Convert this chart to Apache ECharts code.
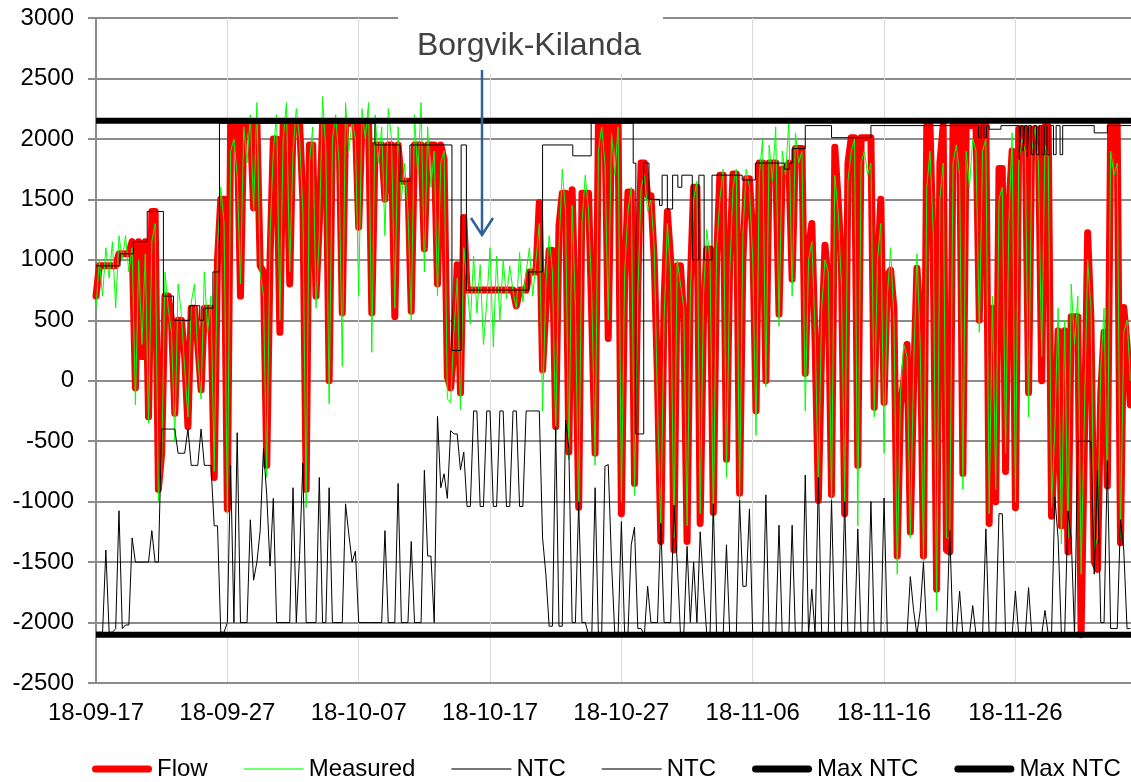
<!DOCTYPE html>
<html>
<head>
<meta charset="utf-8">
<script src="https://cdn.jsdelivr.net/npm/echarts@6/dist/echarts.min.js"></script>
<style>
  html, body { margin: 0; padding: 0; background: #fff; }
  #chart { width: 1131px; height: 782px; }
</style>
</head>
<body>
<div id="chart"></div>
<script>
// start date of the x axis, values are 6-hourly (00, 06, 12, 18) per day
const startDate = Date.UTC(2018, 8, 17);
const perDay = 4;
const dayTicks = [0, 10, 20, 30, 40, 50, 60, 70];
const yTicks = [-2500, -2000, -1500, -1000, -500, 0, 500, 1000, 1500, 2000, 2500, 3000];

// Flow (MW)
const flow = [
  700, 950, 950, 950,       // 09-17
  950, 950, 950, 1050,
  1050, 1050, 1050, 1150,
  -60, 1150, 200, 1150,
  -300, 1400, 1400, -900,
  -600, 700, 700, 500,
  -270, 500, 500, 200,
  -380, 600, 600, 300,
  -75, 600, 600, 600,
  -800, 1000, 1500, 1500,
  -1060, 2130, 2130, 2130,  // 09-27
  700, 2130, 2130, 2130,
  1430, 2130, 950, 900,
  -700, 1000, 2000, 2000,
  400, 2130, 2130, 800,
  2130, 2130, 2130, 1500,
  -900, 1950, 1950, 700,
  1300, 2130, 2130, 0,
  2130, 2130, 2130, 560,
  2130, 2130, 2130, 2130,
  1270, 2130, 2130, 2130,   // 10-07
  560, 1950, 1950, 1950,
  1500, 1950, 1950, 530,
  1950, 1650, 1650, 1650,
  575, 1950, 1950, 1950,
  1090, 1950, 1950, 1950,
  800, 1950, 1830, 30,
  -60, 250, 960, -100,
  1350, 750, 750, 750,
  750, 750, 750, 750,
  750, 750, 750, 750,       // 10-17
  750, 750, 750, 750,
  620, 750, 750, 750,
  900, 900, 900, 1475,
  90, 600, 1077, 1077,
  -380, 1280, 1550, 1550,
  -590, 1580, 500, -1047,
  1550, 1550, 1550, 500,
  -600, 2130, 2130, 2130,
  350, 2130, 2130, 2130,
  -1100, 830, 1560, 1560,   // 10-27
  -850, 800, 1800, 1800,
  1530, 1530, 1000, 0,
  -1330, 650, 1400, 1000,
  -1400, 950, 950, 500,
  -1330, 800, 1600, 1600,
  -1180, 500, 1090, 1090,
  -1090, 1000, 1700, 1700,
  -650, 1000, 1710, 1710,
  -930, 1000, 1670, 1670,
  1200, -250, 1800, 1800,   // 11-06
  0, 1800, 1800, 1800,
  550, 1750, 1750, 1800,
  840, 1920, 1920, 1920,
  60, 1090, 1300, 300,
  -990, 300, 1120, 800,
  -940, 1930, 1500, 1000,
  -1100, 1800, 2010, 2010,
  -700, 2010, 2010, 2010,
  2010, -220, 885, 1500,
  -180, 870, 915, 600,      // 11-16
  -1450, -200, 0, 300,
  -1250, -30, 930, 500,
  -1450, 2110, 2110, 1000,
  -1725, 1800, 2110, -1400,
  -1416, 2110, 2110, 2110,
  -767, 2110, 2110, 2110,
  2110, 500, 2110, 2110,
  -1180, 600, -1000, 1755,
  1755, -750, 1416, 1900,
  -1050, 2080, 2080, 2080,  // 11-26
  -100, 2080, 2080, 2080,
  0, 2100, 2100, -1120,
  -500, 413, -1200, 413,
  -1416, 530, 530, 530,
  -2100, -500, 1224, 500,
  -1500, -1560, -90, 400,
  -870, 2110, 2110, 2110,
  -1340, 605, 300, -200
];

// Measured (MW)
const measured = [
  600, 1000, 700, 1100,
  850, 1150, 600, 1200,
  1000, 1200, 900, 1100,
  -200, 1000, 300, 1050,
  -350, 1150, 1300, -1000,
  -700, 900, 600, 400,
  -500, 800, 550, 100,
  -300, 650, 800, 200,
  -150, 900, 400, 700,
  -750, 1100, 1600, 1300,
  -1100, 1900, 2000, 1700,
  800, 2100, 1800, 2200,
  1400, 2300, 900, 700,
  -800, 1200, 1900, 2200,
  500, 2000, 2300, 900,
  1900, 2250, 2000, 1400,
  -1050, 1800, 2100, 600,
  1200, 2350, 1900, -190,
  2000, 2200, 1800, 120,
  2300, 1900, 2150, 2000,
  700, 2250, 2000, 2300,
  235, 2200, 1800, 2100,
  1200, 2250, 2000, 600,
  2100, 1500, 1800, 1400,
  500, 2200, 1700, 2300,
  900, 2100, 1600, 1900,
  700, 1800, 1900, -150,
  -180, 400, 850, -240,
  1100, 800, 470, 1030,
  560, 960, 300, 650,
  1100, 280, 1030, 500,
  1000, 680, 950, 740,
  600, 1060, 650, 900,
  1100, 700, 1000, 1300,
  -250, 800, 1200, 900,
  -450, 1100, 1750, 1400,
  -650, 1450, 600, -1100,
  1300, 1700, 1400, 700,
  -700, 1900, 2100, 1800,
  500, 2050, 1700, 2100,
  -1000, 900, 1400, 1600,
  -950, 700, 1600, 1700,
  1400, 1500, 1100, -200,
  -1200, 500, 1300, 900,
  -1300, 1000, 800, 600,
  -1200, 700, 1500, 1650,
  -1100, 700, 1250, 1000,
  -1200, 1100, 1500, 1750,
  -800, 900, 1600, 1750,
  -1000, 1200, 1750, 1600,
  1000, -450, 1700, 2000,
  -50, 1950, 1650, 2100,
  450, 1900, 1700, 2150,
  700, 2050, 1800, 1900,
  -250, 1000, 1150, 400,
  -900, 600, 1000, 900,
  -1000, 1700, 1400, 800,
  -1000, 1650, 1900, 2000,
  -1200, 1800, 1900, 1700,
  1800, -300, 1000, 1300,
  -600, 700, 1100, 500,
  -1600, -100, 300, 200,
  -1300, 100, 1050, 300,
  -1500, 1600, 1900, 1200,
  -1900, 1500, 1800, -1300,
  -1300, 1800, 1950, 1700,
  -900, 1900, 1600, 2000,
  1900, 400, 1900, 2000,
  -1100, 700, -900, 1500,
  1600, -600, 1300, 2050,
  -1000, 1800, 2000, 1900,
  -300, 1900, 2100, 1800,
  200, 1950, 1850, -1050,
  -400, 600, -1350, 500,
  -1300, 800, 300, 700,
  -1600, -300, 1000, 600,
  -1400, -1300, 100, 600,
  -900, 1900, 1700, 1800,
  -1300, 400, 500, 0
];

// NTC, lower direction (MW)
const ntcLow = [
  -2080, -2080, -2080, -1400,
  -2080, -2080, -2050, -1075,
  -2050, -2020, -2020, -1300,
  -1500, -1500, -1500, -1500,
  -1500, -1240, -1500, -1500,
  -400, -400, -400, -400,
  -400, -600, -600, -600,
  -400, -700, -700, -700,
  -400, -700, -700, -700,
  -1200, -1200, -2080, -2080,
  -2000, -700, -2000, -430,
  -2000, -2000, -2000, -1150,
  -1650, -1500, -1240, -560,
  -944, -1534, -973, -2000,
  -2000, -2000, -2000, -2000,
  -885, -2000, -1445, -680,
  -2000, -2000, -2000, -2000,
  -800, -2000, -2000, -885,
  -2000, -2000, -2000, -2000,
  -1018, -1270, -1500, -1410,
  -2000, -2000, -2000, -2000,
  -2000, -2000, -2000, -2000,
  -1240, -2000, -2000, -2000,
  -850, -2000, -2000, -2000,
  -1330, -2000, -2000, -2000,
  -740, -1450, -1450, -2000,
  -295, -885, -770, -973,
  -413, -440, -440, -738,
  -590, -1040, -1040, -250,
  -250, -1040, -1040, -250,
  -250, -1040, -1040, -250,
  -250, -1040, -1040, -250,
  -250, -1040, -1040, -250,
  -250, -250, -250, -250,
  -1300, -1600, -2030, -2030,
  -380, -2030, -2030, -325,
  -560, -2000, -2000, -1000,
  -2000, -2000, -2100, -2100,
  -885, -2100, -2100, -708,
  -693, -1500, -2100, -2100,
  -1165, -2100, -2100, -1357,
  -1210, -2050, -2050, -2100,
  -1700, -2000, -2000, -2000,
  -1180, -2000, -2000, -2000,
  -1030, -1500, -2100, -2100,
  -1370, -2000, -1500, -2000,
  -1250, -1700, -2100, -2100,
  -1018, -2100, -2100, -2100,
  -1357, -2100, -2100, -2100,
  -988, -1700, -1700, -1060,
  -2100, -2100, -2100, -2100,
  -944, -2100, -2100, -2100,
  -1195, -2100, -2100, -2100,
  -1195, -2100, -2100, -2100,
  -780, -2100, -1725, -2100,
  -800, -2100, -2100, -2100,
  -990, -2100, -2100, -2100,
  -1000, -2100, -2100, -2100,
  -1225, -2100, -2100, -2100,
  -1000, -2100, -2100, -2100,
  -970, -2100, -2100, -2100,
  -2100, -2100, -2100, -2100,
  -1620, -1900, -2100, -1900,
  -1500, -2100, -2100, -2100,
  -2100, -2100, -2100, -2100,
  -1240, -2100, -2100, -1740,
  -2100, -2100, -2100, -1860,
  -2100, -2100, -2100, -1225,
  -2100, -2100, -2100, -1100,
  -1100, -2100, -2100, -2100,
  -1740, -2100, -2100, -2100,
  -1711, -2100, -2100, -2100,
  -2100, -1900, -2100, -2100,
  -960, -1300, -2100, -2100,
  -1077, -1300, -2100, -500,
  -500, -500, -500, -500,
  -1600, -740, -2000, -2000,
  -660, -2050, -2050, -2050,
  -1150, -1400, -2050, -2050
];

// NTC, upper direction: change points (day offset, MW)
const ntcUpDays = [0, 1.83, 2.85, 3.9, 5.13, 5.9, 7.15, 7.9, 8.2, 8.9, 9.4, 21.24, 23.15, 23.9, 27.1, 27.8, 28.2, 32.95, 34.0, 36.3, 37.7,
  40.9, 41.1, 41.7, 42.1, 42.9, 43.1, 43.5, 43.9, 44.3, 44.6, 45.4, 45.9, 46.3, 46.9, 49.2, 50.2, 52.4, 52.8, 53.0, 54.0, 56.0, 59.0,
  67.2, 67.4, 67.6, 67.8, 68.0, 68.9, 70.3, 70.4, 70.6, 70.7, 70.9, 71.0, 71.2, 71.4, 71.6, 71.8, 72.0, 72.2, 72.4, 72.6, 72.9, 73.1,
  73.4, 73.6, 76.0, 77.0, 78.8];
const ntcUpVals = [950, 1050, 1150, 1400, 700, 500, 620, 500, 600, 900, 2130, 1950, 1650, 1950, 250, 1950, 750, 900, 1950, 1860, 2130,
  1800, -440, 1800, 1500, 1450, 1700, 1420, 1700, 1600, 1700, 1000, 1700, 1000, 1700, 1660, 1800, 1750, 1800, 1920, 2110, 2010, 2110,
  2010, 2110, 2010, 2110, 2080, 2110, 1830, 2110, 1900, 2110, 1850, 2110, 1870, 2110, 1870, 2110, 1870, 2110, 1870, 2110, 1870, 2110,
  1870, 2110, 2050, 2110, 2110];

// Max NTC (MW)
const maxNtcUp = 2150;
const maxNtcDown = -2100;
const lastDay = 78.8;

const font = "'Liberation Sans', Arial, sans-serif";
const toPairs = arr => arr.map((v, i) => [i / perDay, v]);
const pad = n => (n < 10 ? "0" : "") + n;
function dayLabel(v) {
  const d = new Date(startDate + v * 86400000);
  return String(d.getUTCFullYear()).slice(2) + "-" + pad(d.getUTCMonth() + 1) + "-" + pad(d.getUTCDate());
}

const chart = echarts.init(document.getElementById("chart"));
const thick = "path://M3.5,6.5 L56.5,6.5 A3.5,3.5 0 0 1 56.5,13.5 L3.5,13.5 A3.5,3.5 0 0 1 3.5,6.5 Z M0,0 M60,20";
const thin = "path://M0,9 L60,9 L60,11 L0,11 Z M0,0 M60,20";

const option = {
  animation: false,
  backgroundColor: "#fff",
  textStyle: { fontFamily: font },
  grid: { left: 96, right: 0, top: 18, bottom: 99, containLabel: false },
  legend: {
    left: 87,
    top: 752,
    itemWidth: 60,
    itemHeight: 20,
    itemGap: 36,
    itemStyle: { borderWidth: 0 },
    textStyle: { fontSize: 24, color: "#000", fontFamily: font },
    data: [
      { name: "Flow", icon: thick, itemStyle: { color: "#ff0000" } },
      { name: "Measured", icon: thin, itemStyle: { color: "#70ff70" } },
      { name: "NTC", icon: thin, itemStyle: { color: "#777" } },
      { name: "NTC\u200b", icon: thin, itemStyle: { color: "#777" } },
      { name: "Max NTC", icon: thick, itemStyle: { color: "#000" } },
      { name: "Max NTC\u200b", icon: thick, itemStyle: { color: "#000" } }
    ]
  },
  xAxis: {
    type: "value",
    min: 0,
    max: lastDay,
    interval: 10,
    axisLine: { onZero: false, lineStyle: { color: "#8c8c8c", width: 2 } },
    axisTick: { show: false },
    axisLabel: {
      fontSize: 24, color: "#000", fontFamily: font, margin: 18,
      showMaxLabel: false,
      formatter: v => (dayTicks.indexOf(v) >= 0 ? dayLabel(v) : "")
    },
    splitLine: { show: true, lineStyle: { color: "#d9d9d9", width: 1 } }
  },
  yAxis: {
    type: "value",
    min: yTicks[0],
    max: yTicks[yTicks.length - 1],
    interval: 500,
    axisLine: { show: true, lineStyle: { color: "#8c8c8c", width: 2 } },
    axisTick: { show: true, length: 8, lineStyle: { color: "#8c8c8c", width: 2 } },
    axisLabel: { fontSize: 24, color: "#000", fontFamily: font, margin: 22, formatter: v => String(v) },
    splitLine: { show: true, lineStyle: { color: "#8c8c8c", width: 2 } }
  },
  series: [
    {
      name: "Flow", type: "line", symbol: "none", data: toPairs(flow),
      lineStyle: { color: "#ff0000", width: 7, join: "round", cap: "round" },
      itemStyle: { color: "#ff0000" }
    },
    {
      name: "Measured", type: "line", symbol: "none", data: toPairs(measured),
      lineStyle: { color: "#00ff00", width: 1 },
      itemStyle: { color: "#00ff00" }
    },
    {
      name: "NTC", type: "line", symbol: "none", step: "end",
      data: ntcUpDays.map((d, i) => [d, ntcUpVals[i]]),
      lineStyle: { color: "#000", width: 1 },
      itemStyle: { color: "#000" }
    },
    {
      name: "NTC\u200b", type: "line", symbol: "none", data: toPairs(ntcLow),
      lineStyle: { color: "#000", width: 1 },
      itemStyle: { color: "#000" }
    },
    {
      name: "Max NTC", type: "line", symbol: "none",
      data: [[0, maxNtcUp], [lastDay, maxNtcUp]],
      lineStyle: { color: "#000", width: 6 },
      itemStyle: { color: "#000" }
    },
    {
      name: "Max NTC\u200b", type: "line", symbol: "none",
      data: [[0, maxNtcDown], [lastDay, maxNtcDown]],
      lineStyle: { color: "#000", width: 6 },
      itemStyle: { color: "#000" }
    }
  ],
  graphic: [
    { type: "rect", z: 100, shape: { x: 398, y: 4, width: 265, height: 70 }, style: { fill: "#fff" } },
    {
      type: "text", z: 101, x: 529, y: 46,
      style: { text: "Borgvik-Kilanda", font: "32px " + font, fill: "#404040", textAlign: "center", textVerticalAlign: "middle" }
    },
    { type: "line", z: 101, shape: { x1: 482, y1: 70, x2: 482, y2: 234 }, style: { stroke: "#2f619c", lineWidth: 2.5 } },
    {
      type: "polyline", z: 101, shape: { points: [[471, 218], [482, 235], [493, 218]] },
      style: { stroke: "#2f619c", lineWidth: 2.5, fill: null }
    }
  ]
};
chart.setOption(option);
</script>
</body>
</html>
